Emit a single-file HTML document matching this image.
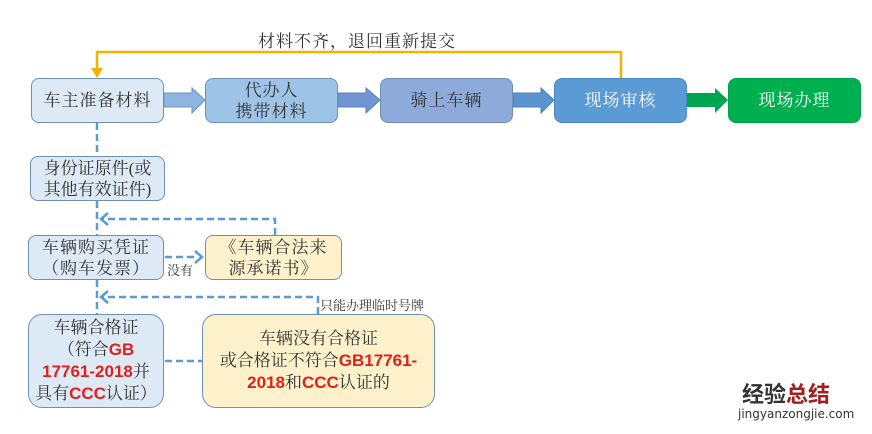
<!DOCTYPE html>
<html><head><meta charset="utf-8"><style>
body{margin:0;width:872px;height:434px;background:#fff;position:relative;overflow:hidden;font-family:"Liberation Serif","Noto Serif CJK SC","Noto Sans CJK SC",serif;}
.b{position:absolute;box-sizing:border-box;border:1.5px solid #6f8fb3;border-radius:8px;display:flex;align-items:center;justify-content:center;text-align:center;font-size:17px;letter-spacing:1px;line-height:21px;color:#333;}
.b>div{display:block;width:100%;}
.r{color:#e0201b;font-weight:bold;letter-spacing:0;font-family:"Liberation Sans","Noto Sans CJK SC",sans-serif;}
.t{position:absolute;font-size:17px;letter-spacing:1px;color:#333;white-space:nowrap;}
</style></head><body>
<svg width="872" height="434" style="position:absolute;left:0;top:0">
<polyline points="621,78 621,52 97,52 97,72" fill="none" stroke="#f0b400" stroke-width="2.5"/>
<polygon points="91,68 103,68 97,78" fill="#f0b400"/>
<polygon points="164,93 192,93 192,88 205,100 192,113 192,107 164,107" fill="#8fb4df" stroke="#6d93c4"/>
<polygon points="338,93 366,93 366,88 380,100 366,113 366,107 338,107" fill="#6f95d3" stroke="#5b7fb8"/>
<polygon points="513,93 541,93 541,88 554,100 541,113 541,107 513,107" fill="#5b93cf" stroke="#4c7fb7"/>
<polygon points="687,93 715,93 715,88 728,100 715,113 715,107 687,107" fill="#00a550"/>
<g stroke="#5b9bd5" stroke-width="2.5" stroke-dasharray="7,4" fill="none">
<line x1="97" y1="123" x2="97" y2="156"/>
<line x1="97" y1="201" x2="97" y2="235"/>
<line x1="97" y1="280" x2="97" y2="314"/>
<polyline points="275,235 275,219 102,219"/>
<polyline points="318,314 318,297 102,297"/>
<line x1="165" y1="257" x2="198" y2="257"/>
<line x1="165" y1="361" x2="202" y2="361"/>
</g>
<g stroke="#5b9bd5" stroke-width="2.5" fill="none">
<polyline points="108,213 101,219 108,225"/>
<polyline points="108,291 101,297 108,303"/>
<polyline points="195,251 202,257 195,263"/>
</g>
</svg>
<div class="t" style="left:258px;top:27px;">材料不齐，退回重新提交</div>
<div class="b" style="left:31px;top:78px;width:133px;height:45px;background:#dde9f5;"><div>车主准备材料</div></div>
<div class="b" style="left:205px;top:78px;width:133px;height:45px;background:#9dc3e6;"><div>代办人<br>携带材料</div></div>
<div class="b" style="left:380px;top:78px;width:133px;height:45px;background:#8eaadb;"><div>骑上车辆</div></div>
<div class="b" style="left:554px;top:78px;width:133px;height:45px;background:#5b9bd5;color:#fff;border-color:#4a86c0;"><div>现场审核</div></div>
<div class="b" style="left:728px;top:78px;width:133px;height:45px;background:#00b050;color:#fff;border-color:#00a048;"><div>现场办理</div></div>
<div class="b" style="left:30px;top:156px;width:135px;height:45px;background:#dde9f5;letter-spacing:0;"><div>身份证原件(或<br>其他有效证件)</div></div>
<div class="b" style="left:28px;top:235px;width:136px;height:45px;background:#dde9f5;"><div>车辆购买凭证<br>（购车发票）</div></div>
<div class="t" style="left:167px;top:260px;font-size:13px;letter-spacing:0;">没有</div>
<div class="b" style="left:205px;top:235px;width:137px;height:45px;background:#fdf1cc;"><div>《车辆合法来<br>源承诺书》</div></div>
<div class="t" style="left:320px;top:295px;font-size:13px;letter-spacing:0;">只能办理临时号牌</div>
<div class="b" style="left:28px;top:314px;width:136px;height:94px;background:#dde9f5;border-radius:14px;line-height:22px;letter-spacing:0;"><div>车辆合格证<br>（符合<span class="r">GB</span><br><span class="r">17761-2018</span>并<br>具有<span class="r">CCC</span>认证）</div></div>
<div class="b" style="left:202px;top:314px;width:233px;height:94px;background:#fdf1cc;border-radius:14px;line-height:22px;letter-spacing:0;"><div>车辆没有合格证<br>或合格证不符合<span class="r">GB17761-</span><br><span class="r">2018</span>和<span class="r">CCC</span>认证的</div></div>
<div class="t" style="left:742px;top:381px;font-size:22px;letter-spacing:0;font-weight:bold;font-family:'Noto Sans CJK SC',sans-serif;line-height:24px;">经验<span style="color:#a02020">总结</span></div>
<div class="t" style="left:738px;top:407px;font-size:12px;letter-spacing:0;font-family:'DejaVu Sans',sans-serif;">jingyanzongjie.com</div>
</body></html>
